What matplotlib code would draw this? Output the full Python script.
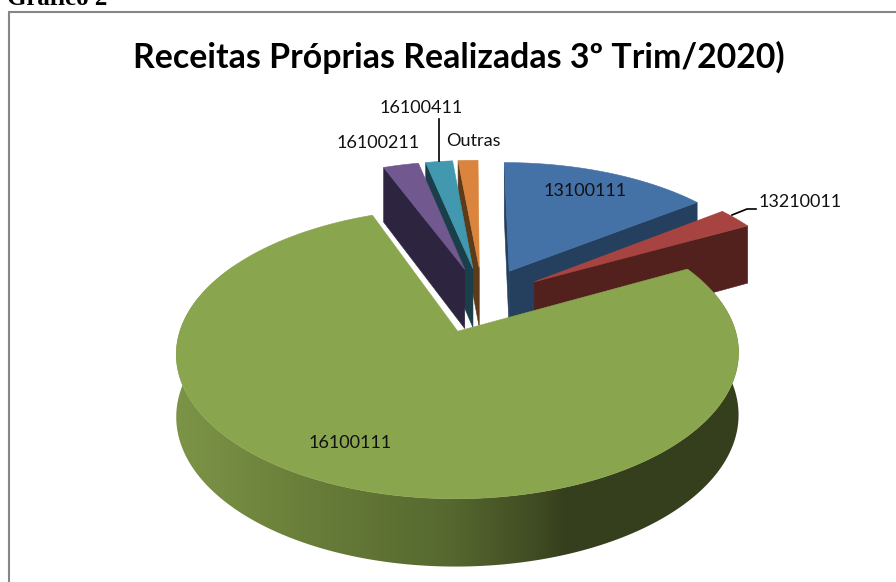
import numpy as np
import matplotlib
matplotlib.use("Agg")
import matplotlib.pyplot as plt
from matplotlib.patches import Polygon
from matplotlib.colors import to_rgb

categories = ["13100111", "13210011", "16100111", "16100211", "16100411", "Outras"]
values = [14.7, 2.5, 76.9, 2.5, 1.9, 1.4]
explode = [0.235, 0.235, 0.258, 0.235, 0.235, 0.235]
top_colors = ["#4471A6", "#A74441", "#89A54E", "#71588F", "#4198AF", "#DB843D"]
wall_colors = ["#253F5E", "#52201D", "#4A5A28", "#2D2540", "#1A3F4A", "#5C3A1A"]
title = "Receitas Próprias Realizadas 3º Trim/2020)"
heading = "Gráfico 2"

# projection
CX, CY, AX_, BX_, DZ, K = 469.5, 315.0, 273.0, 137.0, 61.0, 0.15
C0 = np.array([0.048, 0.125])

def proj(x, y, z=0.0):
    w = 1 + K * y
    wd = 1 + 0.6 * K * y
    return np.column_stack([CX + AX_ * x / w, CY - BX_ * y / w + DZ * z / wd])

fig = plt.figure(figsize=(8.96, 5.82), dpi=100)
ax = fig.add_axes([0, 0, 1, 1])
ax.axis("off")

ax.plot([9, 9, 896], [582, 12, 12], color="#868686", lw=1.5, zorder=0, solid_joinstyle="miter")

fractions = np.array(values) / sum(values)
ends = 90 - np.cumsum(fractions) * 360
starts = ends + fractions * 360

stops_x = [177, 300, 450, 540, 565, 740]
stops_c = ["#7C9447", "#6A7F3A", "#56682F", "#3F4A22", "#353F1D", "#353F1D"]
stops_rgb = np.array([to_rgb(c) for c in stops_c])

def draw_slice(i, z):
    a0, a1 = np.radians(starts[i]), np.radians(ends[i])
    mid = (a0 + a1) / 2
    apex = C0 + explode[i] * np.array([np.cos(mid), np.sin(mid)])
    th = np.linspace(a0, a1, max(8, int(abs(a1 - a0) * 90)))
    rx, ry = apex[0] + np.cos(th), apex[1] + np.sin(th)
    top = proj(rx, ry)
    bot = proj(rx, ry, 1.0)
    A = proj(np.array([apex[0]]), np.array([apex[1]]))[0]
    Ab = proj(np.array([apex[0]]), np.array([apex[1]]), 1.0)[0]
    centre = proj(np.array([apex[0] + 0.5 * np.cos(mid)]), np.array([apex[1] + 0.5 * np.sin(mid)]))[0]
    # outer rim, shaded left to right
    vis = np.sin(th) < 0.5
    if vis.sum() > 1 and i == 2:
        outline = np.vstack([top[vis], bot[vis][::-1]])
        x0, x1 = outline[:, 0].min(), outline[:, 0].max()
        xs = np.linspace(x0, x1, 600)
        grad = np.stack([np.interp(xs, stops_x, stops_rgb[:, c]) for c in range(3)], axis=-1)[None, :, :]
        im = ax.imshow(grad, extent=[x0, x1, outline[:, 1].max(), outline[:, 1].min()],
                       aspect="auto", zorder=z, interpolation="bilinear")
        clip = Polygon(outline, transform=ax.transData, fc="none", ec="none")
        ax.add_patch(clip)
        im.set_clip_path(clip)
    # cut walls
    for k in (0, -1):
        e = top[k] - A
        c = centre - A
        cross_c = e[0] * c[1] - e[1] * c[0]
        cross_d = e[0] * 1.0
        if cross_c * cross_d < 0:
            ax.add_patch(Polygon([A, top[k], bot[k], Ab], fc=wall_colors[i], ec=wall_colors[i], lw=0.4, zorder=z + 0.1))
    ax.add_patch(Polygon(np.vstack([A, top]), fc=top_colors[i], ec=top_colors[i], lw=0.4, zorder=z + 0.2))

for z, i in enumerate([0, 5, 4, 3, 1, 2]):
    draw_slice(i, z + 1)

ax.set_xlim(0, 896)
ax.set_ylim(582, 0)

lab = dict(fontsize=13, family="Lato", color="#111111", ha="center", va="center", zorder=20)
ax.text(585, 191, categories[0], **lab)
ax.text(800, 202, categories[1], **lab)
ax.text(350, 443, categories[2], **lab)
ax.text(378, 143, categories[3], **lab)
ax.text(421, 108, categories[4], **lab)
ax.text(473, 141, categories[5], **lab)
ax.plot([732, 747, 756], [215, 209, 209], color="black", lw=1.2, zorder=19)
ax.plot([438.5, 438.5], [119, 161], color="black", lw=1.2, zorder=19)

ax.text(459, 57, title, fontsize=24.4, family="Lato", weight="bold", color="black", ha="center", va="center", zorder=20)
ax.text(7, 5, heading, fontsize=18, family="Liberation Serif", weight="bold", color="black", ha="left", va="baseline", zorder=20)

fig.savefig("out.png", dpi=100)
